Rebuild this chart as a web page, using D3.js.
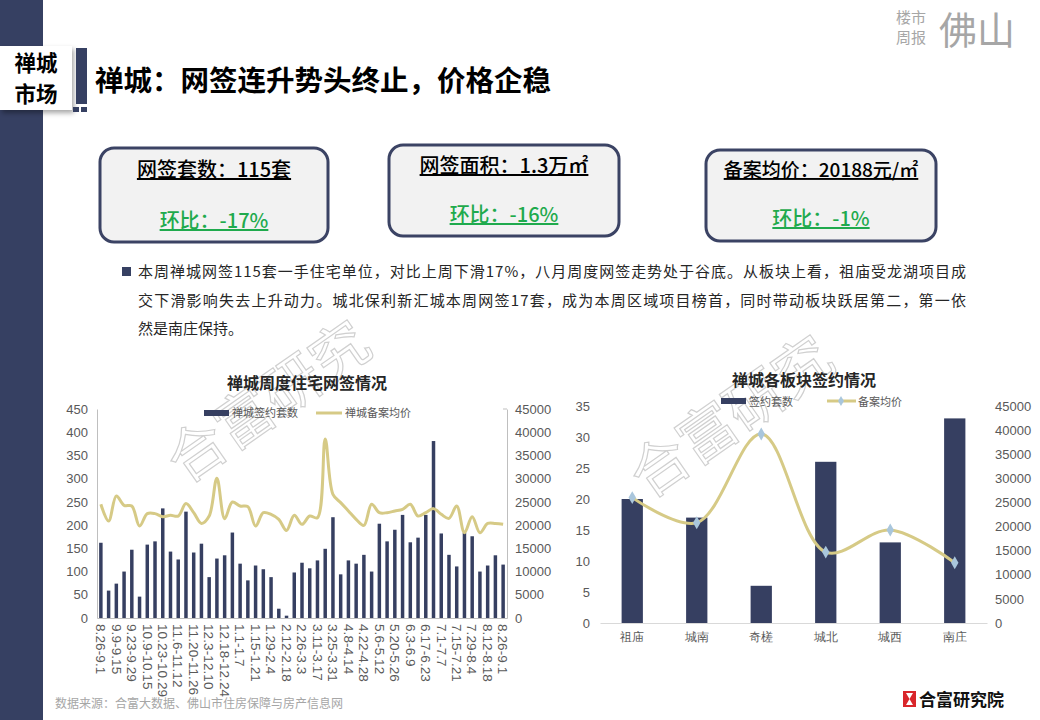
<!DOCTYPE html>
<html><head><meta charset="utf-8">
<script src="https://cdn.jsdelivr.net/npm/d3@7/dist/d3.min.js"></script>
<style>
html,body{margin:0;padding:0;background:#fff;}
svg{display:block;font-family:"Noto Sans CJK SC","Noto Sans",sans-serif;}
</style></head>
<body>
<svg id="c" width="1040" height="720"></svg>
<script>
// ---------- DATA ----------
const weeks = ["8.26-9.1","9.2-9.8","9.9-9.15","9.16-9.22","9.23-9.29","9.30-10.8","10.9-10.15","10.16-10.22","10.23-10.29","10.30-11.5",
"11.6-11.12","11.13-11.19","11.20-11.26","11.27-12.2","12.3-12.10","12.11-12.17","12.18-12.24","12.25-12.31","1.1-1.7","1.8-1.14",
"1.15-1.21","1.22-1.28","1.29-2.4","2.5-2.11","2.12-2.18","2.19-2.25","2.26-3.3","3.4-3.10","3.11-3.17","3.18-3.24",
"3.25-3.31","4.1-4.7","4.8-4.14","4.15-4.21","4.22-4.28","4.29-5.5","5.6-5.12","5.13-5.19","5.20-5.26","5.27-6.2",
"6.3-6.9","6.10-6.16","6.17-6.23","6.24-6.30","7.1-7.7","7.8-7.14","7.15-7.21","7.22-7.28","7.29-8.4","8.5-8.11",
"8.12-8.18","8.19-8.25","8.26-9.1"];
const weeklyUnits = [162,59,74,100,147,46,158,165,236,143,126,229,141,160,88,128,135,184,117,81,
113,105,88,20,5,98,119,107,124,149,217,94,124,117,136,100,203,165,190,222,
163,173,222,381,182,136,111,184,176,100,113,135,115];
const weeklyPrice = [24480,20870,26270,24260,24110,19790,22470,22470,21820,22100,
21950,24630,22680,20370,21950,30090,21390,24970,24110,23980,
19790,22680,22320,21240,18860,22100,20160,21950,21600,38520,
26630,24840,23040,21240,19940,24480,22680,22680,23040,23400,
24480,21950,22680,23550,22320,21460,24110,18360,21820,18360,
20370,20370,20188];
const leftTicks = [0,50,100,150,200,250,300,350,400,450];
const rightTicks = [0,5000,10000,15000,20000,25000,30000,35000,40000,45000];

const districts = ["祖庙","城南","奇槎","城北","城西","南庄"];
const districtUnits = [20,17,6,26,13,33];
const districtPrice = [26000,20800,39200,14700,19300,12500];
const dLeftTicks = [0,5,10,15,20,25,30,35];
const dRightTicks = [0,5000,10000,15000,20000,25000,30000,35000,40000,45000];

const kpis = [
  {title:"网签套数：115套", change:"环比：-17%"},
  {title:"网签面积：1.3万㎡", change:"环比：-16%"},
  {title:"备案均价：20188元/㎡", change:"环比：-1%"}
];
const paragraph = [
  "本周禅城网签115套一手住宅单位，对比上周下滑17%，八月周度网签走势处于谷底。从板块上看，祖庙受龙湖项目成",
  "交下滑影响失去上升动力。城北保利新汇城本周网签17套，成为本周区域项目榜首，同时带动板块跃居第二，第一依",
  "然是南庄保持。"
];

// ---------- STYLE ----------
const NAVY = "#363f61", GOLD = "#d6ca86", AX = "#595959", GRID = "#bfbfbf";
const NUMFONT = "'Liberation Sans',sans-serif";
const fmt = d3.format("d");
const svg = d3.select("#c");

const defs = svg.append("defs");
const f = defs.append("filter").attr("id","sh").attr("x","-20%").attr("y","-20%").attr("width","150%").attr("height","150%");
f.append("feDropShadow").attr("dx",2).attr("dy",3).attr("stdDeviation",2.5).attr("flood-color","#000").attr("flood-opacity",0.35);

// left strip
svg.append("rect").attr("x",0).attr("y",0).attr("width",43).attr("height",720).attr("fill","#364062");
// label box
svg.append("rect").attr("x",0).attr("y",46).attr("width",72).attr("height",64).attr("fill","#fff").attr("filter","url(#sh)");
svg.append("text").attr("x",36).attr("y",71).attr("text-anchor","middle").attr("font-size",21.5).attr("font-weight",700).attr("fill","#000").text("禅城");
svg.append("text").attr("x",36).attr("y",102).attr("text-anchor","middle").attr("font-size",21.5).attr("font-weight",700).attr("fill","#000").text("市场");
svg.append("rect").attr("x",76).attr("y",48).attr("width",11).attr("height",56).attr("fill","#364062");
svg.append("rect").attr("x",73).attr("y",107).attr("width",6).attr("height",5).attr("fill","#364062");
svg.append("rect").attr("x",81).attr("y",107).attr("width",6).attr("height",5).attr("fill","#364062");
// title
svg.append("text").attr("x",95).attr("y",91).attr("font-size",28.5).attr("font-weight",700).attr("fill","#000").text("禅城：网签连升势头终止，价格企稳");

// top-right logo
svg.append("text").attr("x",911).attr("y",23).attr("text-anchor","middle").attr("font-size",15).attr("fill","#a6a6a6").text("楼市");
svg.append("text").attr("x",911).attr("y",43).attr("text-anchor","middle").attr("font-size",15).attr("fill","#a6a6a6").text("周报");
svg.append("text").attr("x",977).attr("y",44).attr("text-anchor","middle").attr("font-size",38).attr("fill","#a6a6a6").text("佛山");

// KPI boxes
const boxes = [{x:100,y:148,w:228,h:94,ty:170,cy:221},{x:389,y:145,w:230,h:91,ty:166,cy:215},{x:706,y:150,w:230,h:91,ty:170,cy:219}];
boxes.forEach((b,i)=>{
  svg.append("rect").attr("x",b.x).attr("y",b.y).attr("width",b.w).attr("height",b.h).attr("rx",14)
    .attr("fill","#f2f2f2").attr("stroke","#3b4364").attr("stroke-width",3);
  const cx = b.x + b.w/2;
  svg.append("text").attr("x",cx).attr("y",b.ty+7).attr("text-anchor","middle").attr("font-size",i==2?19:20)
    .attr("font-weight",500).attr("fill","#000").attr("text-decoration","underline").text(kpis[i].title);
  svg.append("text").attr("x",cx).attr("y",b.cy+7).attr("text-anchor","middle").attr("font-size",20)
    .attr("font-weight",500).attr("fill","#1faa4d").attr("text-decoration","underline").text(kpis[i].change);
});

// paragraph
svg.append("rect").attr("x",122).attr("y",267).attr("width",9).attr("height",9).attr("fill","#364062");
paragraph.forEach((line,i)=>{
  const t = svg.append("text").attr("x",138).attr("y",277+i*28.5).attr("font-size",15).attr("fill","#262626").text(line);
  if(i<2) t.attr("textLength",828).attr("lengthAdjust","spacing");
});

// watermarks
function watermark(x,y){
  svg.append("text").attr("transform",`translate(${x},${y}) rotate(-35)`).attr("font-size",58).attr("font-weight",400)
    .attr("fill","none").attr("stroke","#d0d0d0").attr("stroke-width",1.2).text("合富研究");
}
watermark(185,485);
watermark(648,500);

// ---------- LEFT CHART ----------
{
  const x0=97, x1=507, yTop=409, yBot=618;
  const x = d3.scaleBand().domain(weeks.map((d,i)=>i)).range([x0,x1]).paddingInner(0.55).paddingOuter(0.275);
  const yL = d3.scaleLinear().domain([0,450]).range([yBot,yTop]);
  const yR = d3.scaleLinear().domain([0,45000]).range([yBot,yTop]);

  svg.append("text").attr("x",307).attr("y",389).attr("text-anchor","middle").attr("font-size",16).attr("font-weight",700).attr("fill","#262626").text("禅城周度住宅网签情况");

  const gl = svg.append("g").attr("transform",`translate(${x0},0)`)
    .call(d3.axisLeft(yL).tickValues(leftTicks).tickFormat(fmt).tickSize(0).tickPadding(9));
  gl.select(".domain").attr("stroke",GRID);
  gl.selectAll("text").attr("font-size",13).attr("fill",AX).attr("font-family",NUMFONT);
  const gr = svg.append("g").attr("transform",`translate(${x1},0)`)
    .call(d3.axisRight(yR).tickValues(rightTicks).tickFormat(fmt).tickSize(0).tickPadding(8));
  gr.select(".domain").attr("stroke",GRID);
  gr.selectAll("text").attr("font-size",13).attr("fill",AX).attr("font-family",NUMFONT);
  svg.append("line").attr("x1",x1-4).attr("x2",x1).attr("y1",yTop).attr("y2",yTop).attr("stroke",GRID);

  svg.append("g").selectAll("rect").data(weeklyUnits).join("rect")
    .attr("x",(d,i)=>x(i)).attr("width",x.bandwidth()).attr("y",d=>yL(d)).attr("height",d=>yBot-yL(d)).attr("fill",NAVY);

  const gx = svg.append("g").attr("transform",`translate(0,${yBot})`)
    .call(d3.axisBottom(x).tickSize(0).tickFormat(""));
  gx.select(".domain").attr("stroke",GRID);
  svg.append("g").selectAll("text").data(weeks.map((w,i)=>({w,i})).filter(d=>d.i%2===0)).join("text")
    .attr("transform",d=>`translate(${x(d.i)+x.bandwidth()/2},${yBot+6}) rotate(90)`)
    .attr("dy","0.35em").attr("font-size",13.5).attr("letter-spacing",0.1).attr("fill",AX).attr("font-family",NUMFONT)
    .text(d=>d.w);

  const line = d3.line().x((d,i)=>x(i)+x.bandwidth()/2).y(d=>yR(d)).curve(d3.curveCatmullRom.alpha(0.5));
  svg.append("path").datum(weeklyPrice).attr("d",line).attr("fill","none").attr("stroke",GOLD).attr("stroke-width",3);

  svg.append("rect").attr("x",204).attr("y",410).attr("width",25).attr("height",6).attr("fill",NAVY);
  svg.append("text").attr("x",232).attr("y",417).attr("font-size",11).attr("fill",AX).text("禅城签约套数");
  svg.append("line").attr("x1",316).attr("x2",342).attr("y1",413).attr("y2",413).attr("stroke",GOLD).attr("stroke-width",3);
  svg.append("text").attr("x",345).attr("y",417).attr("font-size",11).attr("fill",AX).text("禅城备案均价");
}

// ---------- RIGHT CHART ----------
{
  const x0=600, x1=987, yTop=406, yBot=623;
  const x = d3.scaleBand().domain(districts).range([x0,x1]).paddingInner(0.67).paddingOuter(0.335);
  const yL = d3.scaleLinear().domain([0,35]).range([yBot,yTop]);
  const yR = d3.scaleLinear().domain([0,45000]).range([yBot,yTop]);

  svg.append("text").attr("x",804).attr("y",386).attr("text-anchor","middle").attr("font-size",16).attr("font-weight",700).attr("fill","#262626").text("禅城各板块签约情况");

  const gl = svg.append("g").attr("transform",`translate(${x0-8},0)`)
    .call(d3.axisLeft(yL).tickValues(dLeftTicks).tickFormat(fmt).tickSize(0).tickPadding(2));
  gl.select(".domain").remove();
  gl.selectAll("text").attr("font-size",13).attr("fill",AX).attr("font-family",NUMFONT);
  const gr = svg.append("g").attr("transform",`translate(${x1+6},0)`)
    .call(d3.axisRight(yR).tickValues(dRightTicks).tickFormat(fmt).tickSize(0).tickPadding(2));
  gr.select(".domain").remove();
  gr.selectAll("text").attr("font-size",13).attr("fill",AX).attr("font-family",NUMFONT);

  svg.append("g").selectAll("rect").data(districtUnits).join("rect")
    .attr("x",(d,i)=>x(districts[i])).attr("width",x.bandwidth()).attr("y",d=>yL(d)).attr("height",d=>yBot-yL(d)).attr("fill",NAVY);

  const gx = svg.append("g").attr("transform",`translate(0,${yBot})`)
    .call(d3.axisBottom(x).tickSize(0).tickPadding(9));
  gx.select(".domain").attr("stroke","#d9d9d9");
  gx.selectAll("text").attr("font-size",12).attr("fill",AX);

  const cx = (d,i)=>x(districts[i])+x.bandwidth()/2;
  const line = d3.line().x(cx).y(d=>yR(d)).curve(d3.curveCatmullRom.alpha(0.5));
  svg.append("path").datum(districtPrice).attr("d",line).attr("fill","none").attr("stroke",GOLD).attr("stroke-width",3);
  const sym = d3.symbol().type(d3.symbolDiamond).size(48);
  svg.append("g").selectAll("path").data(districtPrice).join("path")
    .attr("transform",(d,i)=>`translate(${cx(d,i)},${yR(d)})`).attr("d",sym).attr("fill","#a9c6dc");

  svg.append("rect").attr("x",721).attr("y",398).attr("width",25).attr("height",6).attr("fill",NAVY);
  svg.append("text").attr("x",749).attr("y",406).attr("font-size",11).attr("fill",AX).text("签约套数");
  svg.append("line").attr("x1",827).attr("x2",856).attr("y1",401).attr("y2",401).attr("stroke",GOLD).attr("stroke-width",3);
  svg.append("path").attr("transform","translate(841,401)").attr("d",d3.symbol().type(d3.symbolDiamond).size(30)).attr("fill","#a9c6dc");
  svg.append("text").attr("x",858).attr("y",406).attr("font-size",11).attr("fill",AX).text("备案均价");
}

// footer
svg.append("text").attr("x",55).attr("y",708).attr("font-size",12).attr("fill","#a6a6a6").text("数据来源：合富大数据、佛山市住房保障与房产信息网");
svg.append("rect").attr("x",903).attr("y",691).attr("width",13).attr("height",16).attr("fill","#d9262b");
svg.append("path").attr("d","M906,693 L913,693 L909.5,699 Z M906,705 L913,705 L909.5,699 Z").attr("fill","#fff");
svg.append("text").attr("x",919).attr("y",706).attr("font-size",17).attr("font-weight",700).attr("fill","#111").text("合富研究院");
</script>
</body></html>
